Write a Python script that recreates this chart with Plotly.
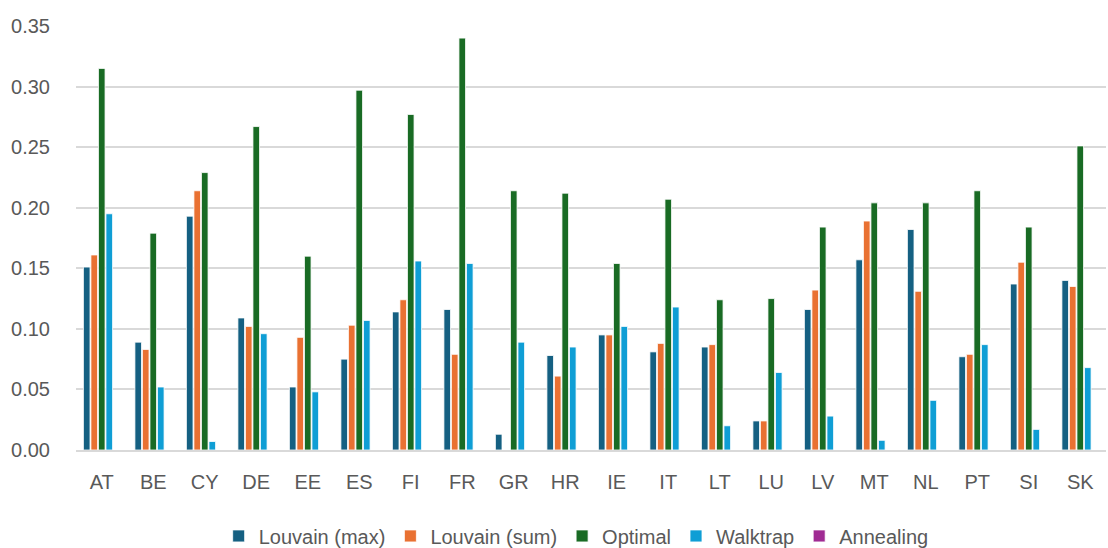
import plotly.graph_objects as go

countries = ["AT", "BE", "CY", "DE", "EE", "ES", "FI", "FR", "GR", "HR",
             "IE", "IT", "LT", "LU", "LV", "MT", "NL", "PT", "SI", "SK"]

louvain_max = [0.151, 0.089, 0.193, 0.109, 0.052, 0.075, 0.114, 0.116, 0.013, 0.078,
               0.095, 0.081, 0.085, 0.024, 0.116, 0.157, 0.182, 0.077, 0.137, 0.140]
louvain_sum = [0.161, 0.083, 0.214, 0.102, 0.093, 0.103, 0.124, 0.079, 0.0, 0.061,
               0.095, 0.088, 0.087, 0.024, 0.132, 0.189, 0.131, 0.079, 0.155, 0.135]
optimal = [0.315, 0.179, 0.229, 0.267, 0.160, 0.297, 0.277, 0.340, 0.214, 0.212,
           0.154, 0.207, 0.124, 0.125, 0.184, 0.204, 0.204, 0.214, 0.184, 0.251]
walktrap = [0.195, 0.052, 0.007, 0.096, 0.048, 0.107, 0.156, 0.154, 0.089, 0.085,
            0.102, 0.118, 0.020, 0.064, 0.028, 0.008, 0.041, 0.087, 0.017, 0.068]
annealing = [0.0] * len(countries)

series = [
    ("Louvain (max)", louvain_max, "#156082"),
    ("Louvain (sum)", louvain_sum, "#E97132"),
    ("Optimal", optimal, "#196B24"),
    ("Walktrap", walktrap, "#0F9ED5"),
    ("Annealing", annealing, "#A02B93"),
]

fig = go.Figure()
for name, vals, color in series:
    fig.add_trace(go.Bar(
        x=countries, y=vals, name=name,
        marker=dict(color=color, line=dict(color="white", width=0.8)),
    ))

font_main = "Liberation Sans, Arial, sans-serif"
text_color = "#595959"

fig.update_layout(
    width=1108, height=548,
    margin=dict(l=76, r=2, t=26, b=98),
    paper_bgcolor="white", plot_bgcolor="white",
    barmode="group", bargap=0.27, bargroupgap=0.12,
    font=dict(family=font_main, color=text_color, size=20),
    showlegend=True,
    legend=dict(
        orientation="h", xref="container", yref="container",
        x=0.52, y=0.022, xanchor="center", yanchor="middle",
        font=dict(family=font_main, size=20, color=text_color),
        itemwidth=30, tracegroupgap=0,
    ),
    xaxis=dict(
        showgrid=False, showline=True, linecolor="#d9d9d9", linewidth=1.5,
        ticks="", tickfont=dict(size=20, color=text_color),
        ticklabelstandoff=13,
    ),
    yaxis=dict(
        range=[0, 0.35], dtick=0.05, tickformat=".2f",
        showgrid=True, gridcolor="#d9d9d9", gridwidth=1.5,
        zeroline=False, showline=False, ticks="",
        tickfont=dict(size=20, color=text_color),
        ticklabelstandoff=25,
    ),
)

fig.write_html("out.html")
